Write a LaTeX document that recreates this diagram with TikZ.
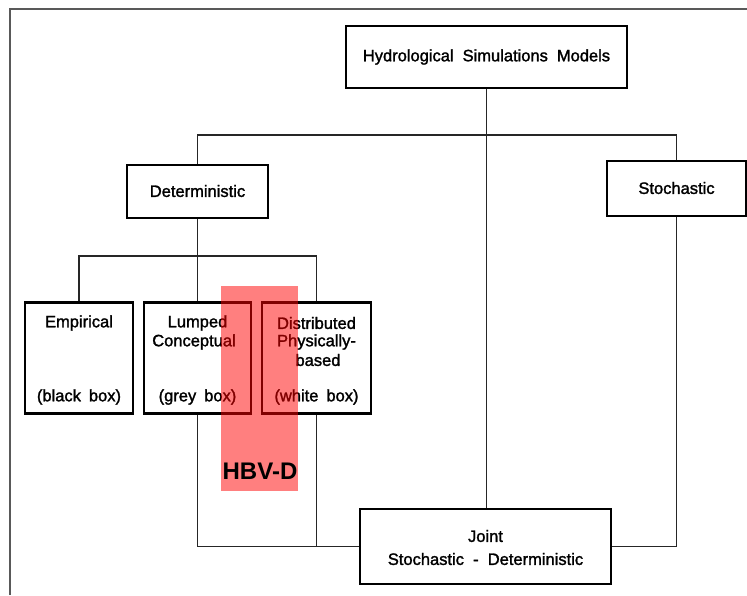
\documentclass[tikz,border=0pt]{standalone}
\usepackage{fontspec}
\setmainfont{Liberation Sans}
\newfontfamily\lblfont[FakeBold=1.6]{Liberation Sans}
\begin{document}
\begin{tikzpicture}[x=1pt,y=-1pt,
  box/.style={draw=black,line width=2.4pt,fill=white,inner sep=0pt},
  lbl/.style={font=\lblfont\fontsize{16.5}{18}\selectfont,inner sep=0pt,align=center},
  conn/.style={draw=black!85,line width=1.4pt}]
\useasboundingbox (0,0) rectangle (747,595);
% frame
\draw[black!65,line width=1.8pt] (10,595) -- (10,9) -- (747,9);
% boxes
\node[box,minimum width=281pt,minimum height=62pt] (top) at (486.5,57) {};
\node[box,minimum width=141pt,minimum height=53pt] (det) at (197.5,191.5) {};
\node[box,minimum width=139pt,minimum height=55pt] (stoch) at (676.5,188.5) {};
\node[box,minimum width=108pt,minimum height=111pt] (emp) at (79,358) {};
\node[box,minimum width=107pt,minimum height=111pt] (lump) at (197.5,358) {};
\node[box,minimum width=109pt,minimum height=111pt] (dist) at (316.5,358) {};
\node[box,minimum width=251pt,minimum height=75pt] (joint) at (485.5,546.5) {};
% connectors
\coordinate (topbar) at (0,135);
\coordinate (lowbar) at (0,256);
\draw[conn] (top.south) -- (top.south |- joint.north);
\draw[conn] (det.north) |- (topbar -| stoch.north) -- (stoch.north);
\draw[conn] (det.south) -- (lump.north);
\draw[conn] (emp.north) |- (lowbar -| dist.north) -- (dist.north);
\draw[conn] (lump.south) |- (joint.west);
\draw[conn] (dist.south) -- (dist.south |- joint.west);
\draw[conn] (stoch.south) |- (joint.east);
% texts
\node[lbl] (ttop) at (486.5,57) {Hydrological\hspace{9pt}Simulations\hspace{9pt}Models};
\node[lbl] (tdet) at (197.5,191) {Deterministic};
\node[lbl] (tstoch) at (676.5,188) {Stochastic};
\node[lbl] (temp1) at (79,323) {Empirical};
\node[lbl] (temp2) at (79,397) {(black\hspace{8pt}box)};
\node[lbl] (tlump1) at (197.5,323) {Lumped};
\node[lbl] (tlump2) at (194,342) {Conceptual};
\node[lbl] (tlump3) at (197.5,397) {(grey\hspace{8pt}box)};
\node[lbl] (tdist1) at (316.5,323) {Distributed};
\node[lbl] (tdist2) at (316.5,342) {Physically-};
\node[lbl] (tdist3) at (318,360) {based};
\node[lbl] (tdist4) at (316.5,397) {(white\hspace{8pt}box)};
\node[lbl] (tjoint1) at (485.5,536) {Joint};
\node[lbl] (tjoint2) at (485.5,559) {Stochastic\ \ -\ \ Deterministic};
% highlight
\fill[red,opacity=0.5] (221,286) rectangle (298,491);
\node[font=\fontsize{24}{26}\selectfont\bfseries,inner sep=0pt] (hbv) at (260,471) {HBV-D};
\end{tikzpicture}
\end{document}
